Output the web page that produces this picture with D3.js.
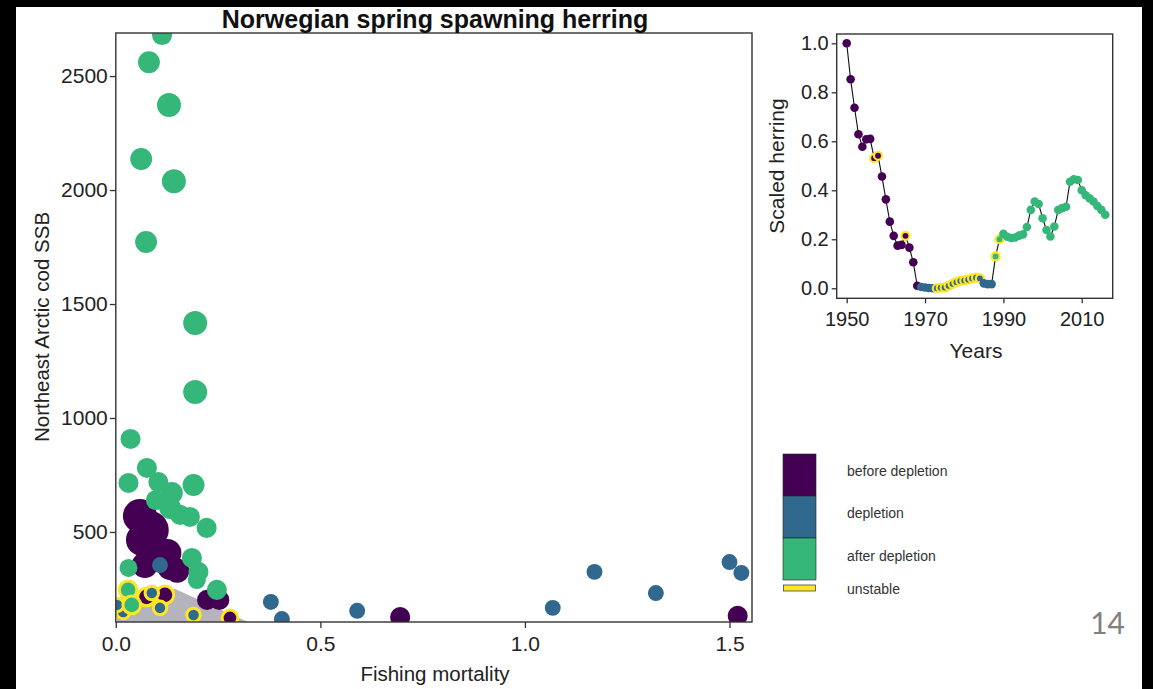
<!DOCTYPE html>
<html>
<head>
<meta charset="utf-8">
<script src="https://cdn.jsdelivr.net/npm/d3@7"></script>
<style>
  html, body { margin: 0; padding: 0; background: #000; }
  svg { display: block; }
  text { font-family: "Liberation Sans", Arial, sans-serif; }
</style>
</head>
<body>
<svg id="chart" width="1153" height="689"></svg>
<script>
// ---- Main scatter: herring fishing mortality vs. cod spawning stock biomass ----
// phase: 0 = before depletion, 1 = depletion, 2 = after depletion
const fishingMortality = [
  0.059, 0.083, 0.064, 0.091, 0.126, 0.133, 0.071, 0.150, 0.223, 0.253, 0.695, 1.520,
  0.379, 0.406, 0.590, 1.068, 1.170, 1.320, 1.500, 1.529, 0.108,
  0.113, 0.081, 0.130, 0.062, 0.142, 0.074, 0.194, 0.194, 0.036, 0.076, 0.031, 0.104,
  0.190, 0.137, 0.133, 0.098, 0.157, 0.181, 0.222, 0.186, 0.202, 0.198, 0.247, 0.031,
  0.030, 0.039, 0.018, 0.088, 0.108, 0.120, 0.075, 0.190, 0.279, 0.003
];
const codSSB = [
  570, 509, 465, 421, 408, 346, 355, 330, 202, 202, 127, 132,
  193, 118, 154, 167, 325, 232, 368, 320, 355,
  2680, 2561, 2373, 2136, 2039, 1772, 1417, 1114, 908, 781, 715, 719,
  706, 671, 605, 640, 575, 566, 518, 386, 325, 289, 246, 342,
  246, 180, 149, 232, 167, 224, 215, 136, 123, 180
];
const herringLevel = [
  0.83, 1.00, 0.74, 0.65, 0.57, 0.48, 0.48, 0.40, 0.22, 0.22, 0.22, 0.22,
  0.04, 0.04, 0.04, 0.04, 0.04, 0.04, 0.04, 0.04, 0.04,
  0.22, 0.30, 0.39, 0.30, 0.39, 0.30, 0.39, 0.39, 0.22, 0.22, 0.22, 0.22,
  0.30, 0.30, 0.30, 0.22, 0.22, 0.22, 0.22, 0.22, 0.22, 0.13, 0.22, 0.13,
  0.22, 0.22, 0.04, 0.04, 0.04, 0.22, 0.22, 0.04, 0.13, 0.04
];
const phase = [
  0, 0, 0, 0, 0, 0, 0, 0, 0, 0, 0, 0,
  1, 1, 1, 1, 1, 1, 1, 1, 1,
  2, 2, 2, 2, 2, 2, 2, 2, 2, 2, 2, 2,
  2, 2, 2, 2, 2, 2, 2, 2, 2, 2, 2, 2,
  2, 2, 1, 1, 1, 0, 0, 1, 0, 1
];
const unstable = [
  0, 0, 0, 0, 0, 0, 0, 0, 0, 0, 0, 0,
  0, 0, 0, 0, 0, 0, 0, 0, 0,
  0, 0, 0, 0, 0, 0, 0, 0, 0, 0, 0, 0,
  0, 0, 0, 0, 0, 0, 0, 0, 0, 0, 0, 0,
  1, 1, 1, 1, 1, 1, 1, 1, 1, 1
];
// shaded region of unstable states (fishing mortality, cod SSB)
const unstableRegionF   = [0.003, 0.005, 0.084, 0.145, 0.323];
const unstableRegionSSB = [105,   211,   254,   250,   105];

const mainXTicks = [0, 0.5, 1.0, 1.5];
const mainYTicks = [500, 1000, 1500, 2000, 2500];

// ---- Inset: scaled herring biomass through time ----
const years = d3.range(1950, 2017);
const scaledHerring = [
  1.000, 0.853, 0.737, 0.629, 0.578, 0.608, 0.610, 0.531, 0.541, 0.456,
  0.363, 0.272, 0.214, 0.174, 0.177, 0.214, 0.166, 0.106, 0.010, 0.005,
  0.003, 0.001, 0.000, 0.000, 0.002, 0.003, 0.010, 0.018, 0.025, 0.030,
  0.032, 0.035, 0.040, 0.043, 0.040, 0.020, 0.017, 0.017, 0.130, 0.200,
  0.222, 0.210, 0.205, 0.207, 0.215, 0.220, 0.250, 0.320, 0.354, 0.344,
  0.286, 0.238, 0.211, 0.252, 0.320, 0.327, 0.333, 0.435, 0.445, 0.442,
  0.400, 0.380, 0.367, 0.354, 0.336, 0.320, 0.300
];
const yearPhase = years.map(y => y <= 1968 ? 0 : (y <= 1987 ? 1 : 2));
const yearUnstable = years.map(y =>
  (y === 1957 || y === 1958 || y === 1965 || (y >= 1973 && y <= 1984) || y === 1988 || y === 1989) ? 1 : 0);
const insetXTicks = [1950, 1970, 1990, 2010];
const insetYTicks = [0, 0.2, 0.4, 0.6, 0.8, 1.0];

const phaseLabels = ["before depletion", "depletion", "after depletion"];
const phaseColors = ["#440154", "#31688E", "#35B779"];
const unstableColor = "#FDE725";

const svg = d3.select("#chart");

// slide page
svg.append("rect").attr("x", 0).attr("y", 0).attr("width", 1153).attr("height", 689).attr("fill", "#000");
svg.append("rect").attr("x", 16).attr("y", 7).attr("width", 1126).attr("height", 682).attr("fill", "#fff");

// ================= main panel =================
const mx = d3.scaleLinear().domain([0, 1.555]).range([115.8, 752]);
const my = d3.scaleLinear().domain([105, 2689]).range([622, 33]);
const rScale = d3.scaleLinear().domain([0, 1]).range([7.5, 19]);

svg.append("defs").append("clipPath").attr("id", "mainClip")
  .append("rect").attr("x", mx.range()[0]).attr("y", my.range()[1])
  .attr("width", mx.range()[1] - mx.range()[0]).attr("height", my.range()[0] - my.range()[1]);

const main = svg.append("g").attr("clip-path", "url(#mainClip)");

const region = unstableRegionF.map((f, i) => [mx(f), my(unstableRegionSSB[i])]);
main.append("path")
  .attr("d", d3.line()(region) + "Z")
  .attr("fill", "#b5b3bb");

const pts = fishingMortality.map((f, i) => ({
  f, ssb: codSSB[i], h: herringLevel[i], phase: phase[i], unstable: unstable[i]
}));
const order = d3.sort(pts, d => d.unstable, d => d.phase);

main.selectAll("circle.pt").data(order).join("circle")
  .attr("class", "pt")
  .attr("cx", d => mx(d.f))
  .attr("cy", d => my(d.ssb))
  .attr("r", d => rScale(d.h) - (d.unstable ? 1.2 : 0))
  .attr("fill", d => phaseColors[d.phase])
  .attr("stroke", d => d.unstable ? unstableColor : "none")
  .attr("stroke-width", d => d.unstable ? 3 : 0);

// frame
svg.append("rect")
  .attr("x", mx.range()[0]).attr("y", my.range()[1])
  .attr("width", mx.range()[1] - mx.range()[0]).attr("height", my.range()[0] - my.range()[1])
  .attr("fill", "none").attr("stroke", "#333").attr("stroke-width", 1.4);

const mxAxis = svg.append("g").attr("transform", `translate(0,${my.range()[0]})`)
  .call(d3.axisBottom(mx).tickValues(mainXTicks).tickFormat(d3.format(".1f")).tickSizeOuter(0).tickSize(6).tickPadding(8));
const myAxis = svg.append("g").attr("transform", `translate(${mx.range()[0]},0)`)
  .call(d3.axisLeft(my).tickValues(mainYTicks).tickFormat(d3.format("d")).tickSizeOuter(0).tickSize(6).tickPadding(2));
[mxAxis, myAxis].forEach(a => {
  a.select(".domain").remove();
  a.selectAll(".tick line").attr("stroke", "#333").attr("stroke-width", 1.3);
  a.selectAll(".tick text").attr("font-size", 21).attr("fill", "#222")
    .style("font-family", "'Liberation Sans', Arial, sans-serif");
});

svg.append("text").attr("x", 435).attr("y", 28).attr("text-anchor", "middle")
  .attr("font-size", 25).attr("font-weight", "bold").attr("fill", "#111")
  .text("Norwegian spring spawning herring");
svg.append("text").attr("x", 435).attr("y", 681).attr("text-anchor", "middle")
  .attr("font-size", 20.5).attr("fill", "#222").text("Fishing mortality");
svg.append("text").attr("transform", "translate(49,327) rotate(-90)").attr("text-anchor", "middle")
  .attr("font-size", 20.5).attr("fill", "#222").text("Northeast Arctic cod SSB");

// ================= inset panel =================
const ix = d3.scaleLinear().domain([1947.45, 2017.9]).range([836.7, 1112.7]);
const iy = d3.scaleLinear().domain([-0.041, 1.038]).range([298.3, 34]);

svg.append("path")
  .datum(years.map((y, i) => [ix(y), iy(scaledHerring[i])]))
  .attr("d", d3.line())
  .attr("fill", "none").attr("stroke", "#111").attr("stroke-width", 1.1);

const ipts = years.map((y, i) => ({ y, v: scaledHerring[i], phase: yearPhase[i], unstable: yearUnstable[i] }));
svg.selectAll("circle.ipt").data(ipts).join("circle")
  .attr("class", "ipt")
  .attr("cx", d => ix(d.y)).attr("cy", d => iy(d.v))
  .attr("r", d => d.unstable ? 4 : 4.3)
  .attr("fill", d => phaseColors[d.phase])
  .attr("stroke", d => d.unstable ? unstableColor : "none")
  .attr("stroke-width", d => d.unstable ? 2.2 : 0);

svg.append("rect")
  .attr("x", ix.range()[0]).attr("y", iy.range()[1])
  .attr("width", ix.range()[1] - ix.range()[0]).attr("height", iy.range()[0] - iy.range()[1])
  .attr("fill", "none").attr("stroke", "#333").attr("stroke-width", 1.4);

const ixAxis = svg.append("g").attr("transform", `translate(0,${iy.range()[0]})`)
  .call(d3.axisBottom(ix).tickValues(insetXTicks).tickFormat(d3.format("d")).tickSizeOuter(0).tickSize(5).tickPadding(9));
const iyAxis = svg.append("g").attr("transform", `translate(${ix.range()[0]},0)`)
  .call(d3.axisLeft(iy).tickValues(insetYTicks).tickFormat(d3.format(".1f")).tickSizeOuter(0).tickSize(5).tickPadding(3));
[ixAxis, iyAxis].forEach(a => {
  a.select(".domain").remove();
  a.selectAll(".tick line").attr("stroke", "#333").attr("stroke-width", 1.3);
  a.selectAll(".tick text").attr("font-size", 20).attr("fill", "#222")
    .style("font-family", "'Liberation Sans', Arial, sans-serif");
});

svg.append("text").attr("x", 976).attr("y", 358).attr("text-anchor", "middle")
  .attr("font-size", 21).attr("fill", "#222").text("Years");
svg.append("text").attr("transform", "translate(784,166) rotate(-90)").attr("text-anchor", "middle")
  .attr("font-size", 21).attr("fill", "#222").text("Scaled herring");

// ================= legend =================
const legend = svg.append("g").attr("transform", "translate(783,454)");
const blockH = 42;
phaseLabels.forEach((lab, i) => {
  legend.append("rect").attr("x", 0).attr("y", i * blockH).attr("width", 33).attr("height", blockH)
    .attr("fill", phaseColors[i]).attr("stroke", "#222").attr("stroke-width", 0.6);
  legend.append("text").attr("x", 64).attr("y", i * blockH + 22 + (i === 2 ? 1 : 0))
    .attr("font-size", 14).attr("fill", "#333").text(lab);
});
legend.append("rect").attr("x", 0.5).attr("y", 131).attr("width", 32).attr("height", 6)
  .attr("fill", unstableColor).attr("stroke", "#444").attr("stroke-width", 0.8);
legend.append("text").attr("x", 64).attr("y", 140).attr("font-size", 14).attr("fill", "#333").text("unstable");

// slide number
svg.append("text").attr("x", 1125).attr("y", 634).attr("text-anchor", "end")
  .attr("font-size", 30).attr("fill", "#808080")
  .style("font-family", "Lato, 'Open Sans', sans-serif").text("14");
</script>
</body>
</html>
